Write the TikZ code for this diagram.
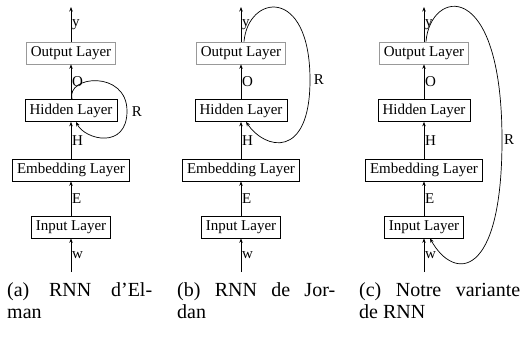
\documentclass[tikz,border=0pt]{standalone}
\usepackage{fontspec}
\setmainfont{Liberation Serif}
\usetikzlibrary{arrows.meta}
\tikzset{
  layer/.style={draw, line width=0.7pt, minimum height=22pt, inner xsep=4.5pt, inner ysep=2pt,
    font=\fontsize{15}{18}\selectfont},
  outlayer/.style={layer, draw=gray!80},
  conn/.style={-{Stealth[length=4.5pt,width=3.5pt]}, line width=0.8pt},
  loopconn/.style={conn, line width=0.7pt},
  lbl/.style={anchor=west, inner sep=0.8pt, font=\fontsize{15}{18}\selectfont},
  rlbl/.style={inner sep=0pt, font=\fontsize{15}{18}\selectfont},
  capbox/.style={anchor=base west, align=justify, inner sep=0pt, font=\fontsize{20}{22}\selectfont},
}
\newcommand\rnncolumn[2]{%
  \coordinate (#1bot) at (#2,272);
  \coordinate (#1top) at (#2,7);
  \node[layer] (#1in) at (#2,227) {Input Layer};
  \node[layer] (#1emb) at (#2,170) {Embedding Layer};
  \node[layer] (#1hid) at (#2,110.5) {Hidden Layer};
  \node[outlayer] (#1out) at (#2,53) {Output Layer};
  \draw[conn] (#1bot) -- node[lbl]{w} (#1in);
  \draw[conn] (#1in) -- node[lbl]{E} (#1emb);
  \draw[conn] (#1emb) -- node[lbl]{H} (#1hid);
  \draw[conn] (#1hid) -- node[lbl]{O} (#1out);
  \draw[conn] (#1out) -- node[lbl]{y} (#1top);
}
\begin{document}
\begin{tikzpicture}[x=1pt,y=-1pt]
\useasboundingbox (0,0) rectangle (520,345);
\rnncolumn{a}{71}
\rnncolumn{b}{241}
\rnncolumn{c}{424}
% Elman loop
\coordinate (aR) at (127,111);
\draw[loopconn] ([xshift=1pt]ahid.north) .. controls +(-6,-24) and +(0,-41) .. (aR)
  .. controls +(0,39) and +(9,18) .. ([xshift=5pt]ahid.south);
\node[rlbl] (aRl) at (137,112) {R};
% Jordan loop
\coordinate (bR) at (310,80);
\draw[loopconn] ([xshift=3pt]bout.north) .. controls +(4,-47) and +(0,-95) .. (bR)
  .. controls +(0,80) and +(19,28) .. ([xshift=5pt]bhid.south);
\node[rlbl] (bRl) at (319,80) {R};
% Variant loop
\coordinate (cR) at (502,140);
\draw[loopconn] ([xshift=2pt]cout.north) .. controls +(4,-52) and +(0,-165) .. (cR)
  .. controls +(0,140) and +(24,43) .. ([xshift=6pt]cin.south);
\node[rlbl] (cRl) at (509,140) {R};
% captions
\node[capbox, text width=145pt] (capa) at (7,296) {(a) RNN d’El-\linebreak man};
\node[capbox, text width=158pt] (capb) at (177,296) {(b) RNN de Jor-\linebreak dan};
\node[capbox, text width=161pt] (capc) at (359,296) {(c) Notre variante\linebreak de RNN};
\end{tikzpicture}
\end{document}
